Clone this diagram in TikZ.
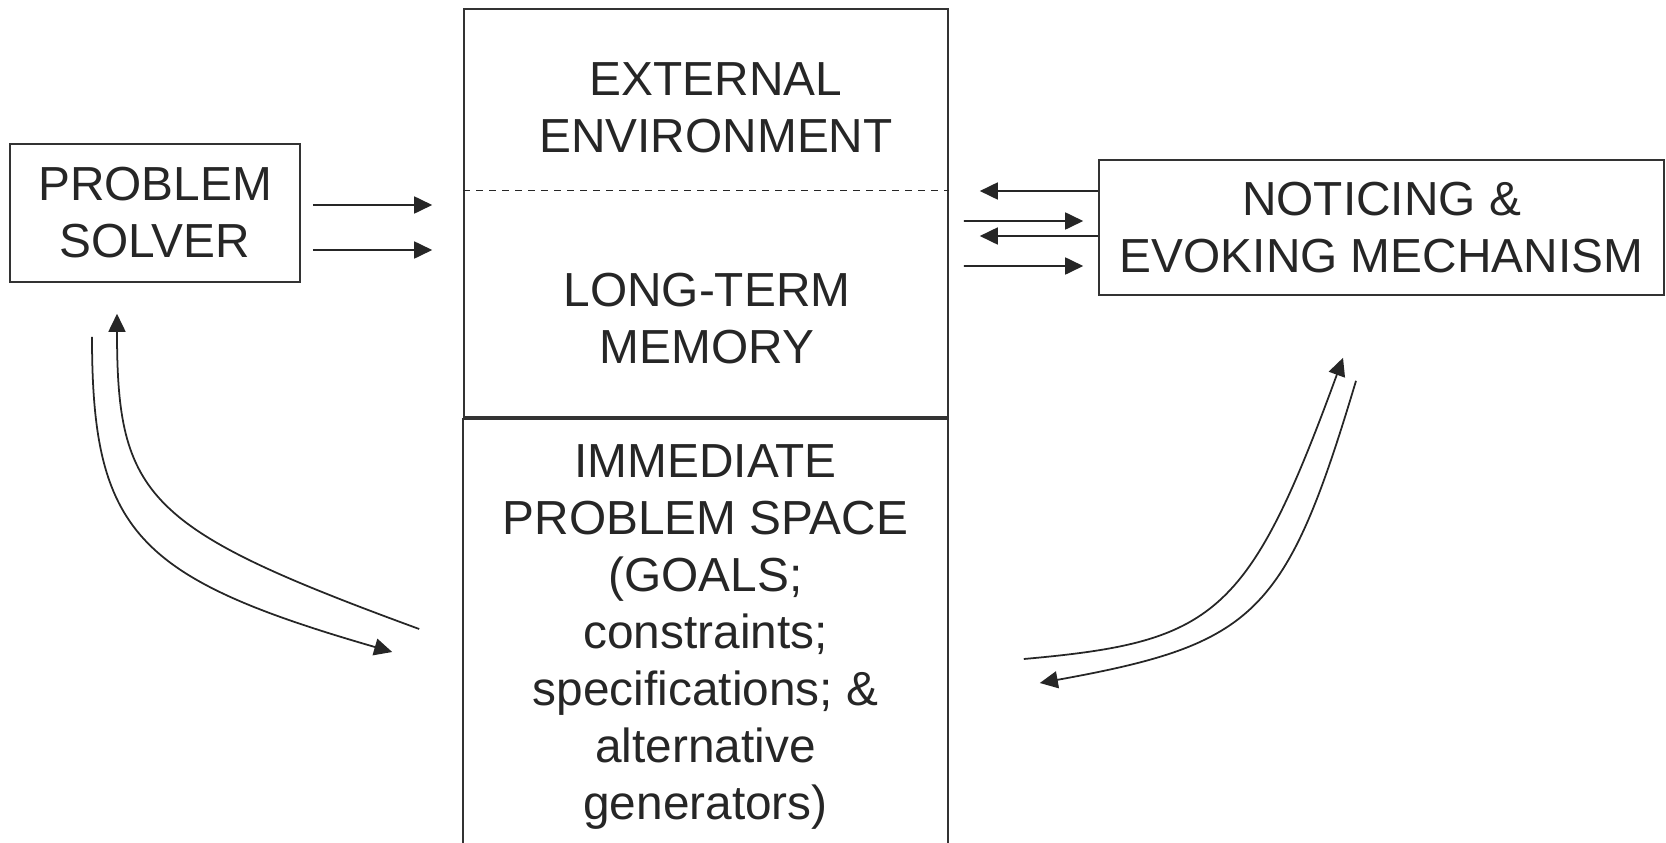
\documentclass[tikz,border=0pt]{standalone}
\usepackage{fontspec}
\setmainfont{Liberation Sans}
\usetikzlibrary{arrows.meta,positioning}

\begin{document}
\begin{tikzpicture}[
    box/.style={draw=black!80, line width=0.45pt, align=center, inner sep=0pt, font={\fontsize{13.6}{16.2}\selectfont}, text=black!85},
    txt/.style={align=center, inner sep=0pt, font={\fontsize{13.6}{16.2}\selectfont}, text=black!85},
    arrow/.style={-{Triangle[length=0.18cm, width=0.17cm]}, line width=0.5pt, draw=black!85},
    divider/.style={draw=black!85, line width=0.45pt, dash pattern=on 0.07cm off 0.06cm},
]
\useasboundingbox (0,0) rectangle (16.66,8.42);

% boxes
\node[box, minimum width=2.90cm, minimum height=1.38cm] (ps) at (1.55, 6.29) {PROBLEM\\SOLVER};
\node[box, minimum width=4.84cm, minimum height=4.08cm] (mem) at (7.06, 6.29) {};
\node[box, minimum width=4.85cm, minimum height=4.36cm] (ims) at (7.055, 2.05)
    {IMMEDIATE\\PROBLEM SPACE\\(GOALS;\\constraints;\\specifications; \&\\alternative\\generators)};
\node[box, minimum width=5.65cm, minimum height=1.35cm] (notice) at (13.815, 6.145) {NOTICING \&\\EVOKING MECHANISM};

% memory box contents
\node[txt] (ext) at (7.16, 7.345) {EXTERNAL\\ENVIRONMENT};
\node[txt] (ltm) at (7.07, 5.235) {LONG-TERM\\MEMORY};
\draw[divider] ([yshift=0.225cm]mem.west) -- ([yshift=0.225cm]mem.east);

% problem solver -> memory
\draw[arrow, shorten <=0.12cm, shorten >=0.31cm] ([yshift=0.08cm]ps.east) -- ([yshift=0.08cm]mem.west);
\draw[arrow, shorten <=0.12cm, shorten >=0.31cm] ([yshift=-0.37cm]ps.east) -- ([yshift=-0.37cm]mem.west);

% memory <-> noticing
\draw[arrow, shorten >=0.31cm] ([yshift=0.365cm]notice.west) -- ([yshift=0.22cm]mem.east);
\draw[arrow, shorten <=0.15cm, shorten >=0.15cm] ([yshift=-0.08cm]mem.east) -- ([yshift=0.065cm]notice.west);
\draw[arrow, shorten >=0.31cm] ([yshift=-0.085cm]notice.west) -- ([yshift=-0.23cm]mem.east);
\draw[arrow, shorten <=0.15cm, shorten >=0.15cm] ([yshift=-0.53cm]mem.east) -- ([yshift=-0.385cm]notice.west);

% problem solver <-> problem space
\draw[arrow] ([shift={(-0.43,0.08)}]ims.west) .. controls +(-2.73,1.00) and +(0,-1.84) .. ([shift={(-0.38,-0.31)}]ps.south);
\draw[arrow] ([shift={(-0.63,-0.54)}]ps.south) .. controls +(0,-1.95) and +(-2.56,0.74) .. ([shift={(-0.70,-0.15)}]ims.west);

% problem space <-> noticing
\draw[arrow] ([shift={(0.75,-0.22)}]ims.east) .. controls +(1.90,0.17) and +(-0.95,-2.60) .. ([shift={(-0.385,-0.62)}]notice.south);
\draw[arrow] ([shift={(-0.255,-0.85)}]notice.south) .. controls +(-0.70,-2.34) and +(2.16,0.39) .. ([shift={(0.91,-0.46)}]ims.east);
\end{tikzpicture}
\end{document}
